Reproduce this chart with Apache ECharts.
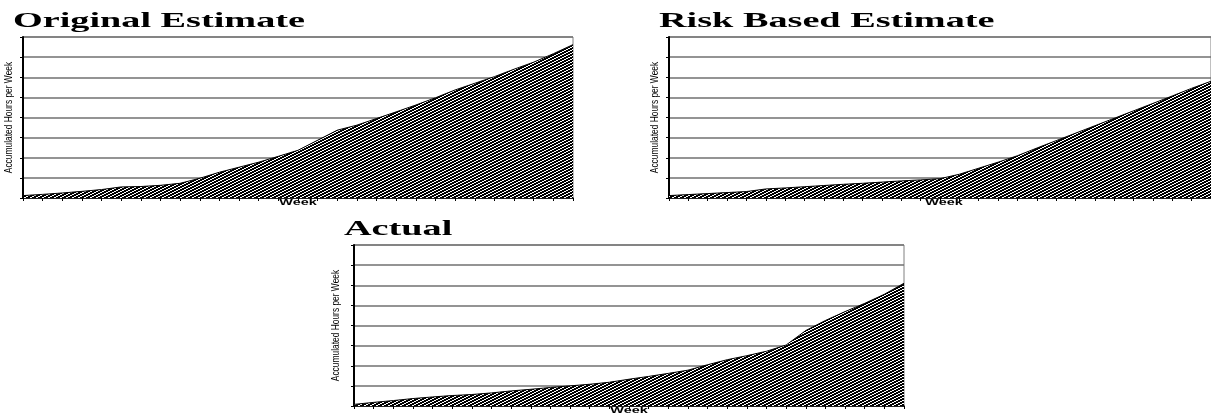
<!DOCTYPE html>
<html>
<head>
<meta charset="utf-8">
<script src="https://cdn.jsdelivr.net/npm/echarts@6/dist/echarts.min.js"></script>
<style>
  html, body { margin: 0; padding: 0; background: #fff; }
  #chart { width: 1211px; height: 414px; }
</style>
</head>
<body>
<div id="chart"></div>
<script>
// Week categories shared by all three panels
const weeks = ['1','2','3','4','5','6','7','8','9','10','11','12','13','14','15',
  '16','17','18','19','20','21','22','23','24','25','26','27','28','29'];

// Accumulated hours per week
const originalEstimate = [12, 18, 25, 33, 42, 55, 57, 63, 73, 98, 128, 153, 178, 207, 237,
  287, 337, 362, 395, 428, 462, 498, 537, 570, 603, 640, 675, 717, 762];
const riskBasedEstimate = [12, 17, 22, 27, 32, 45, 50, 56, 62, 68, 73, 79, 85, 90, 96,
  118, 148, 178, 210, 248, 285, 322, 359, 396, 433, 470, 507, 545, 580];
const actualHours = [8, 18, 27, 37, 45, 52, 57, 65, 75, 83, 92, 100, 108, 118, 133,
  147, 162, 178, 205, 230, 250, 272, 303, 375, 425, 469, 510, 555, 610];

const panelTitles = ['Original Estimate', 'Risk Based Estimate', 'Actual'];
const yAxisTitle = 'Accumulated Hours per Week';
const xAxisTitle = 'Week';

// value scale (gridline every 100 hours, labels hidden)
const yMin = 0, yMax = 800, yStep = 100;

// dense upward-diagonal hatch tile used to fill the areas
function makeHatch() {
  const w = 6, h = 3;
  const c = document.createElement('canvas');
  c.width = w; c.height = h;
  const g = c.getContext('2d');
  g.fillStyle = '#ffffff';
  g.fillRect(0, 0, w, h);
  g.fillStyle = '#000000';
  for (let r = 0; r < h; r++) {
    for (let col = 0; col < w; col++) {
      if (((col + 2 * r) % w) < 4) g.fillRect(col, r, 1, 1);
    }
  }
  return c;
}
const hatch = makeHatch();

const seriesData = [originalEstimate, riskBasedEstimate, actualHours];

// panel placement
const panels = [
  { left: 23,  top: 37,  titleX: 13,  titleY: 22,  yNameX: 9 },
  { left: 669, top: 37,  titleX: 659, titleY: 22,  yNameX: 655 },
  { left: 354, top: 245, titleX: 344, titleY: 230, yNameX: 336 }
];
const plotW = 550, plotH = 161;

const grids = [], xAxes = [], yAxes = [], series = [], graphics = [];

panels.forEach((p, i) => {
  grids.push({
    left: p.left, top: p.top, width: plotW, height: plotH,
    show: true, borderColor: '#808080', borderWidth: 1, backgroundColor: 'transparent'
  });
  xAxes.push({
    type: 'category', gridIndex: i, data: weeks, boundaryGap: false,
    axisLine: { show: true, lineStyle: { color: '#000', width: 1.5 } },
    axisTick: { show: true, interval: 0, length: 3, lineStyle: { color: '#000' } },
    axisLabel: { show: false },
    splitLine: { show: false }
  });
  yAxes.push({
    type: 'value', gridIndex: i, min: yMin, max: yMax, interval: yStep,
    axisLine: { show: true, lineStyle: { color: '#000', width: 2 } },
    axisTick: { show: true, length: 3, lineStyle: { color: '#000' } },
    axisLabel: { show: false },
    splitLine: { show: true, lineStyle: { color: '#707070', width: 1.5 } }
  });
  series.push({
    type: 'line', xAxisIndex: i, yAxisIndex: i, data: seriesData[i],
    showSymbol: false, symbol: 'none', silent: true,
    lineStyle: { color: '#000', width: 1 },
    areaStyle: { color: { image: hatch, repeat: 'repeat' }, opacity: 1 }
  });

  // panel title
  graphics.push({
    type: 'text', x: p.titleX, y: p.titleY, scaleX: 1.82, silent: true,
    style: {
      text: panelTitles[i], font: 'bold 21px "Liberation Serif"', fill: '#000',
      align: 'left', verticalAlign: 'middle', textAlign: 'left', textVerticalAlign: 'middle'
    }
  });
  // vertical axis title
  graphics.push({
    type: 'text', x: p.yNameX, y: p.top + plotH / 2, rotation: Math.PI / 2, scaleX: 0.73, silent: true,
    style: {
      text: yAxisTitle, font: '11.5px "Liberation Sans"', fill: '#000',
      align: 'center', verticalAlign: 'middle', textAlign: 'center', textVerticalAlign: 'middle'
    }
  });
  // horizontal axis title
  graphics.push({
    type: 'text', x: p.left + plotW / 2, y: p.top + plotH + 5, scaleX: 1.6, silent: true,
    style: {
      text: xAxisTitle, font: 'bold 9px "Liberation Sans"', fill: '#000',
      align: 'center', verticalAlign: 'middle', textAlign: 'center', textVerticalAlign: 'middle'
    }
  });
});

const chart = echarts.init(document.getElementById('chart'), null, { renderer: 'canvas' });
chart.setOption({
  animation: false,
  backgroundColor: '#fff',
  grid: grids,
  xAxis: xAxes,
  yAxis: yAxes,
  series: series,
  graphic: { elements: graphics }
});
</script>
</body>
</html>
